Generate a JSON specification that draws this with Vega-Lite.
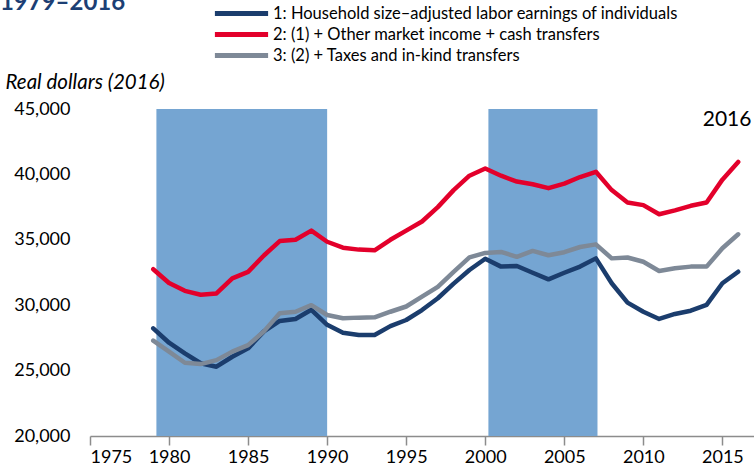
{
  "$schema": "https://vega.github.io/schema/vega-lite/v6.json",
  "width": 664,
  "height": 327,
  "autosize": {"type": "none"},
  "padding": {"left": 90, "top": 109, "right": 0, "bottom": 35},
  "background": "white",
  "config": {
    "view": {"stroke": null},
    "font": "Lato"
  },
  "datasets": {
    "series": [
      {"year": 1979, "series": "1: Household size–adjusted labor earnings of individuals", "value": 28230},
      {"year": 1980, "series": "1: Household size–adjusted labor earnings of individuals", "value": 27130},
      {"year": 1981, "series": "1: Household size–adjusted labor earnings of individuals", "value": 26320},
      {"year": 1982, "series": "1: Household size–adjusted labor earnings of individuals", "value": 25560},
      {"year": 1983, "series": "1: Household size–adjusted labor earnings of individuals", "value": 25300},
      {"year": 1984, "series": "1: Household size–adjusted labor earnings of individuals", "value": 26060},
      {"year": 1985, "series": "1: Household size–adjusted labor earnings of individuals", "value": 26700},
      {"year": 1986, "series": "1: Household size–adjusted labor earnings of individuals", "value": 28000},
      {"year": 1987, "series": "1: Household size–adjusted labor earnings of individuals", "value": 28800},
      {"year": 1988, "series": "1: Household size–adjusted labor earnings of individuals", "value": 28950},
      {"year": 1989, "series": "1: Household size–adjusted labor earnings of individuals", "value": 29650},
      {"year": 1990, "series": "1: Household size–adjusted labor earnings of individuals", "value": 28500},
      {"year": 1991, "series": "1: Household size–adjusted labor earnings of individuals", "value": 27900},
      {"year": 1992, "series": "1: Household size–adjusted labor earnings of individuals", "value": 27720},
      {"year": 1993, "series": "1: Household size–adjusted labor earnings of individuals", "value": 27720},
      {"year": 1994, "series": "1: Household size–adjusted labor earnings of individuals", "value": 28400},
      {"year": 1995, "series": "1: Household size–adjusted labor earnings of individuals", "value": 28870},
      {"year": 1996, "series": "1: Household size–adjusted labor earnings of individuals", "value": 29630},
      {"year": 1997, "series": "1: Household size–adjusted labor earnings of individuals", "value": 30530},
      {"year": 1998, "series": "1: Household size–adjusted labor earnings of individuals", "value": 31650},
      {"year": 1999, "series": "1: Household size–adjusted labor earnings of individuals", "value": 32690},
      {"year": 2000, "series": "1: Household size–adjusted labor earnings of individuals", "value": 33550},
      {"year": 2001, "series": "1: Household size–adjusted labor earnings of individuals", "value": 32950},
      {"year": 2002, "series": "1: Household size–adjusted labor earnings of individuals", "value": 33000},
      {"year": 2003, "series": "1: Household size–adjusted labor earnings of individuals", "value": 32480},
      {"year": 2004, "series": "1: Household size–adjusted labor earnings of individuals", "value": 31980},
      {"year": 2005, "series": "1: Household size–adjusted labor earnings of individuals", "value": 32480},
      {"year": 2006, "series": "1: Household size–adjusted labor earnings of individuals", "value": 32950},
      {"year": 2007, "series": "1: Household size–adjusted labor earnings of individuals", "value": 33580},
      {"year": 2008, "series": "1: Household size–adjusted labor earnings of individuals", "value": 31680},
      {"year": 2009, "series": "1: Household size–adjusted labor earnings of individuals", "value": 30200},
      {"year": 2010, "series": "1: Household size–adjusted labor earnings of individuals", "value": 29500},
      {"year": 2011, "series": "1: Household size–adjusted labor earnings of individuals", "value": 28950},
      {"year": 2012, "series": "1: Household size–adjusted labor earnings of individuals", "value": 29330},
      {"year": 2013, "series": "1: Household size–adjusted labor earnings of individuals", "value": 29580},
      {"year": 2014, "series": "1: Household size–adjusted labor earnings of individuals", "value": 30020},
      {"year": 2015, "series": "1: Household size–adjusted labor earnings of individuals", "value": 31680},
      {"year": 2016, "series": "1: Household size–adjusted labor earnings of individuals", "value": 32560},
      {"year": 1979, "series": "2: (1) + Other market income + cash transfers", "value": 32750},
      {"year": 1980, "series": "2: (1) + Other market income + cash transfers", "value": 31700},
      {"year": 1981, "series": "2: (1) + Other market income + cash transfers", "value": 31100},
      {"year": 1982, "series": "2: (1) + Other market income + cash transfers", "value": 30800},
      {"year": 1983, "series": "2: (1) + Other market income + cash transfers", "value": 30900},
      {"year": 1984, "series": "2: (1) + Other market income + cash transfers", "value": 32050},
      {"year": 1985, "series": "2: (1) + Other market income + cash transfers", "value": 32550},
      {"year": 1986, "series": "2: (1) + Other market income + cash transfers", "value": 33800},
      {"year": 1987, "series": "2: (1) + Other market income + cash transfers", "value": 34900},
      {"year": 1988, "series": "2: (1) + Other market income + cash transfers", "value": 35000},
      {"year": 1989, "series": "2: (1) + Other market income + cash transfers", "value": 35700},
      {"year": 1990, "series": "2: (1) + Other market income + cash transfers", "value": 34850},
      {"year": 1991, "series": "2: (1) + Other market income + cash transfers", "value": 34400},
      {"year": 1992, "series": "2: (1) + Other market income + cash transfers", "value": 34250},
      {"year": 1993, "series": "2: (1) + Other market income + cash transfers", "value": 34200},
      {"year": 1994, "series": "2: (1) + Other market income + cash transfers", "value": 35000},
      {"year": 1995, "series": "2: (1) + Other market income + cash transfers", "value": 35700},
      {"year": 1996, "series": "2: (1) + Other market income + cash transfers", "value": 36400},
      {"year": 1997, "series": "2: (1) + Other market income + cash transfers", "value": 37500},
      {"year": 1998, "series": "2: (1) + Other market income + cash transfers", "value": 38800},
      {"year": 1999, "series": "2: (1) + Other market income + cash transfers", "value": 39900},
      {"year": 2000, "series": "2: (1) + Other market income + cash transfers", "value": 40450},
      {"year": 2001, "series": "2: (1) + Other market income + cash transfers", "value": 39900},
      {"year": 2002, "series": "2: (1) + Other market income + cash transfers", "value": 39450},
      {"year": 2003, "series": "2: (1) + Other market income + cash transfers", "value": 39250},
      {"year": 2004, "series": "2: (1) + Other market income + cash transfers", "value": 38950},
      {"year": 2005, "series": "2: (1) + Other market income + cash transfers", "value": 39300},
      {"year": 2006, "series": "2: (1) + Other market income + cash transfers", "value": 39800},
      {"year": 2007, "series": "2: (1) + Other market income + cash transfers", "value": 40200},
      {"year": 2008, "series": "2: (1) + Other market income + cash transfers", "value": 38800},
      {"year": 2009, "series": "2: (1) + Other market income + cash transfers", "value": 37850},
      {"year": 2010, "series": "2: (1) + Other market income + cash transfers", "value": 37650},
      {"year": 2011, "series": "2: (1) + Other market income + cash transfers", "value": 36950},
      {"year": 2012, "series": "2: (1) + Other market income + cash transfers", "value": 37250},
      {"year": 2013, "series": "2: (1) + Other market income + cash transfers", "value": 37600},
      {"year": 2014, "series": "2: (1) + Other market income + cash transfers", "value": 37850},
      {"year": 2015, "series": "2: (1) + Other market income + cash transfers", "value": 39600},
      {"year": 2016, "series": "2: (1) + Other market income + cash transfers", "value": 40950},
      {"year": 1979, "series": "3: (2) + Taxes and in-kind transfers", "value": 27290},
      {"year": 1980, "series": "3: (2) + Taxes and in-kind transfers", "value": 26450},
      {"year": 1981, "series": "3: (2) + Taxes and in-kind transfers", "value": 25600},
      {"year": 1982, "series": "3: (2) + Taxes and in-kind transfers", "value": 25500},
      {"year": 1983, "series": "3: (2) + Taxes and in-kind transfers", "value": 25800},
      {"year": 1984, "series": "3: (2) + Taxes and in-kind transfers", "value": 26450},
      {"year": 1985, "series": "3: (2) + Taxes and in-kind transfers", "value": 26950},
      {"year": 1986, "series": "3: (2) + Taxes and in-kind transfers", "value": 28000},
      {"year": 1987, "series": "3: (2) + Taxes and in-kind transfers", "value": 29380},
      {"year": 1988, "series": "3: (2) + Taxes and in-kind transfers", "value": 29500},
      {"year": 1989, "series": "3: (2) + Taxes and in-kind transfers", "value": 30000},
      {"year": 1990, "series": "3: (2) + Taxes and in-kind transfers", "value": 29250},
      {"year": 1991, "series": "3: (2) + Taxes and in-kind transfers", "value": 29000},
      {"year": 1992, "series": "3: (2) + Taxes and in-kind transfers", "value": 29050},
      {"year": 1993, "series": "3: (2) + Taxes and in-kind transfers", "value": 29070},
      {"year": 1994, "series": "3: (2) + Taxes and in-kind transfers", "value": 29500},
      {"year": 1995, "series": "3: (2) + Taxes and in-kind transfers", "value": 29900},
      {"year": 1996, "series": "3: (2) + Taxes and in-kind transfers", "value": 30650},
      {"year": 1997, "series": "3: (2) + Taxes and in-kind transfers", "value": 31400},
      {"year": 1998, "series": "3: (2) + Taxes and in-kind transfers", "value": 32550},
      {"year": 1999, "series": "3: (2) + Taxes and in-kind transfers", "value": 33650},
      {"year": 2000, "series": "3: (2) + Taxes and in-kind transfers", "value": 34000},
      {"year": 2001, "series": "3: (2) + Taxes and in-kind transfers", "value": 34070},
      {"year": 2002, "series": "3: (2) + Taxes and in-kind transfers", "value": 33700},
      {"year": 2003, "series": "3: (2) + Taxes and in-kind transfers", "value": 34150},
      {"year": 2004, "series": "3: (2) + Taxes and in-kind transfers", "value": 33820},
      {"year": 2005, "series": "3: (2) + Taxes and in-kind transfers", "value": 34050},
      {"year": 2006, "series": "3: (2) + Taxes and in-kind transfers", "value": 34450},
      {"year": 2007, "series": "3: (2) + Taxes and in-kind transfers", "value": 34650},
      {"year": 2008, "series": "3: (2) + Taxes and in-kind transfers", "value": 33580},
      {"year": 2009, "series": "3: (2) + Taxes and in-kind transfers", "value": 33650},
      {"year": 2010, "series": "3: (2) + Taxes and in-kind transfers", "value": 33320},
      {"year": 2011, "series": "3: (2) + Taxes and in-kind transfers", "value": 32620},
      {"year": 2012, "series": "3: (2) + Taxes and in-kind transfers", "value": 32820},
      {"year": 2013, "series": "3: (2) + Taxes and in-kind transfers", "value": 32950},
      {"year": 2014, "series": "3: (2) + Taxes and in-kind transfers", "value": 32950},
      {"year": 2015, "series": "3: (2) + Taxes and in-kind transfers", "value": 34350},
      {"year": 2016, "series": "3: (2) + Taxes and in-kind transfers", "value": 35420}
    ],
    "periods": [
      {"start": 1979.2, "end": 1990},
      {"start": 2000.2, "end": 2007.1}
    ],
    "note": [
      {"year": 2015.3, "value": 44150, "label": "2016"}
    ],
    "heading": [
      {"year": 1969.3, "value": 52570, "label": "1979–2016"}
    ]
  },
  "layer": [
    {
      "data": {"name": "periods"},
      "mark": {"type": "rect", "color": "#75a5d2"},
      "encoding": {
        "x": {"field": "start", "type": "quantitative", "scale": {"domain": [1975, 2017], "nice": false, "zero": false}},
        "x2": {"field": "end"},
        "y": {"datum": 45000, "type": "quantitative", "scale": {"domain": [20000, 45000], "nice": false, "zero": false}},
        "y2": {"datum": 20000}
      }
    },
    {
      "data": {"name": "series"},
      "mark": {"type": "line", "strokeWidth": 4.5, "strokeCap": "round", "strokeJoin": "round"},
      "encoding": {
        "x": {
          "field": "year",
          "type": "quantitative",
          "scale": {"domain": [1975, 2017], "nice": false, "zero": false},
          "axis": {
            "title": null,
            "values": [1975, 1980, 1985, 1990, 1995, 2000, 2005, 2010, 2015],
            "format": "d",
            "grid": false,
            "domainColor": "#8c8c8c",
            "domainWidth": 1.5,
            "tickColor": "#8c8c8c",
            "tickWidth": 1.5,
            "tickSize": 9,
            "labelFont": "Lato",
            "labelFontSize": 18,
            "labelColor": "#000000",
            "labelPadding": 3
          }
        },
        "y": {
          "field": "value",
          "type": "quantitative",
          "scale": {"domain": [20000, 45000], "nice": false, "zero": false},
          "axis": {
            "title": "Real dollars (2016)",
            "titleAngle": 0,
            "titleAlign": "left",
            "titleBaseline": "middle",
            "titleX": -85,
            "titleY": -27,
            "titleFont": "Lato",
            "titleFontSize": 20.5,
            "titleFontStyle": "italic",
            "titleFontWeight": "normal",
            "titleColor": "#000000",
            "values": [20000, 25000, 30000, 35000, 40000, 45000],
            "format": ",d",
            "grid": false,
            "domain": false,
            "ticks": false,
            "labelFont": "Lato",
            "labelFontSize": 18,
            "labelColor": "#000000",
            "labelPadding": 20
          }
        },
        "color": {
          "field": "series",
          "type": "nominal",
          "scale": {
            "domain": [
              "1: Household size–adjusted labor earnings of individuals",
              "2: (1) + Other market income + cash transfers",
              "3: (2) + Taxes and in-kind transfers"
            ],
            "range": ["#1b3d6d", "#e3002b", "#7e8997"]
          },
          "legend": {
            "title": null,
            "orient": "none",
            "legendX": 142,
            "legendY": -105,
            "symbolType": "M-3.8,0H3.8",
            "symbolSize": 196,
            "symbolStrokeWidth": 5,
            "symbolFillColor": "transparent",
            "labelFont": "Lato",
            "labelFontSize": 16.5,
            "labelColor": "#000000",
            "labelOffset": 22,
            "rowPadding": 0,
            "labelLimit": 600
          }
        }
      }
    },
    {
      "data": {"name": "note"},
      "mark": {"type": "text", "font": "Lato", "fontSize": 21, "color": "#000000", "align": "center", "baseline": "middle"},
      "encoding": {
        "x": {"field": "year", "type": "quantitative"},
        "y": {"field": "value", "type": "quantitative"},
        "text": {"field": "label"}
      }
    },
    {
      "data": {"name": "heading"},
      "mark": {"type": "text", "font": "Lato", "fontSize": 24, "fontWeight": "bold", "color": "#1c3f74", "align": "left", "baseline": "alphabetic"},
      "encoding": {
        "x": {"field": "year", "type": "quantitative"},
        "y": {"field": "value", "type": "quantitative"},
        "text": {"field": "label"}
      }
    }
  ]
}
